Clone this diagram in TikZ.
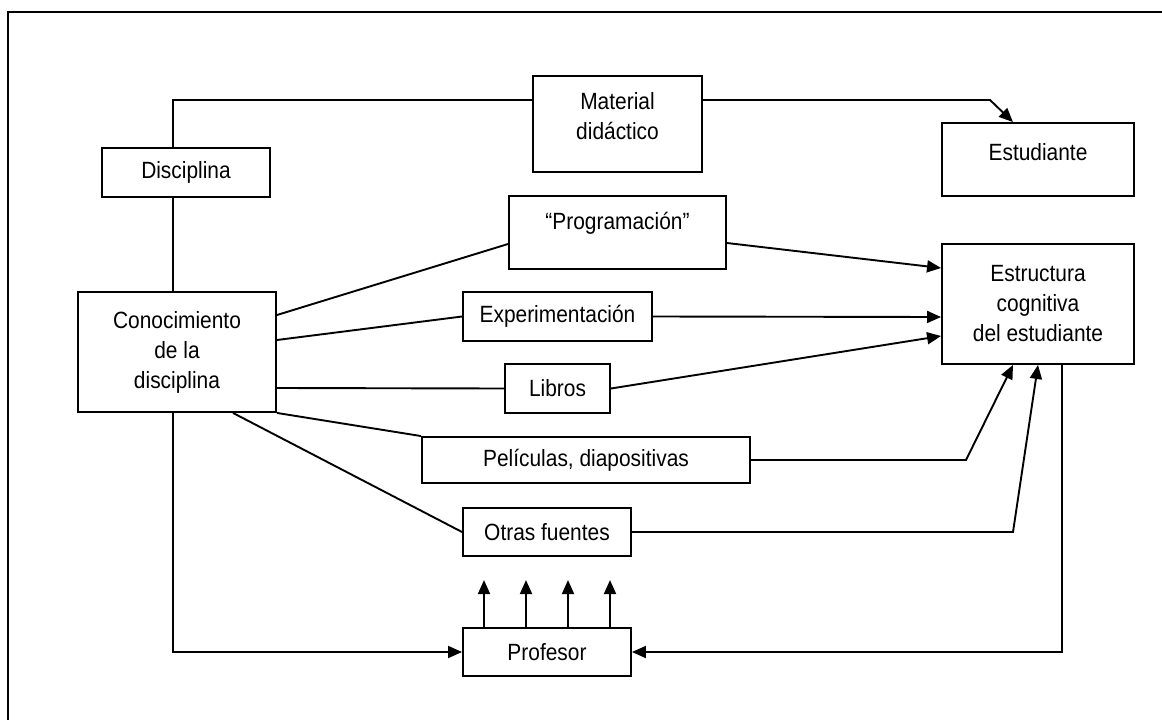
\documentclass[tikz,border=0pt]{standalone}
\usepackage{fontspec}
\setmainfont{Liberation Sans}[FakeStretch=0.89]
\usetikzlibrary{arrows.meta}
\begin{document}
\begin{tikzpicture}[x=1pt,y=-1pt,
  box/.style={draw, line width=1.9pt, inner sep=0pt, align=center,
    font=\fontsize{23.5}{30}\selectfont},
  conn/.style={line width=1.9pt},
  arr/.style={conn, -{Triangle[length=14pt,width=12pt]}},
  frame/.style={line width=2.8pt}]
\useasboundingbox (0,0) rectangle (1162,720);
\draw[frame] (8,722) -- (8,12) -- (1164,12);

% boxes
\node[box, minimum width=168, minimum height=49] (disc) at (186,172.5) {Disciplina};
\node[box, minimum width=169, minimum height=96] (mat) at (617.5,124) {\raisebox{6pt}[\height][\depth]{\begin{tabular}{@{}c@{}}Material\\did\'actico\end{tabular}}};
\node[box, minimum width=192, minimum height=73] (est) at (1038,159.5) {\raisebox{7pt}[\height][\depth]{Estudiante}};
\node[box, minimum width=217, minimum height=73] (prog) at (617.5,232.5) {\raisebox{9pt}[\height][\depth]{“Programación”}};
\node[box, minimum width=192, minimum height=120] (estr) at (1038,304) {Estructura\\cognitiva\\del estudiante};
\node[box, minimum width=198, minimum height=120] (con) at (177,352) {Conocimiento\\de la\\disciplina};
\node[box, minimum width=189, minimum height=49] (exp) at (557.5,316.5) {Experimentación};
\node[box, minimum width=105, minimum height=49] (lib) at (557.5,388.5) {Libros};
\node[box, minimum width=328, minimum height=46] (pel) at (586,460) {Películas, diapositivas};
\node[box, minimum width=168, minimum height=48] (otr) at (547,532) {Otras fuentes};
\node[box, minimum width=168, minimum height=48] (prof) at (547,652) {Profesor};

\coordinate (vx) at (173,0);
\coordinate (topy) at (0,100);
\coordinate (bend) at (990,100);

% top route
\draw[conn] (disc.north -| vx) |- (mat.west |- topy);
\draw[arr] (mat.east |- topy) -- (bend) -- ([xshift=-25pt]est.north);
\draw[conn] (disc.south -| vx) -- (con.north -| vx);

% sources from Conocimiento
\draw[conn] ([yshift=37pt]con.east) -- ([yshift=-11.5pt]prog.west);
\draw[conn] ([yshift=12pt]con.east) -- (exp.west);
\draw[conn] ([yshift=-36pt]con.east) -- (lib.west);
\draw[conn] (con.south east) -- (pel.north west);
\draw[conn] ([xshift=56pt]con.south) -- (otr.west);

% to Estructura
\draw[arr] ([yshift=-10.5pt]prog.east) -- ([yshift=36pt]estr.west);
\draw[arr] (exp.east) -- ([yshift=-13pt]estr.west);
\draw[arr] (lib.east) -- ([yshift=-32pt]estr.west);
\draw[arr] (pel.east) -- (966,460) -- ([xshift=-25pt]estr.south);
\draw[arr] (otr.east) -- (1013,532) -- (estr.south);

% Profesor
\draw[arr] (con.south -| vx) |- (prof.west);
\draw[arr] ([xshift=24pt]estr.south) |- (prof.east);
\foreach \dx/\nm in {-63/a1,-21/a2,21/a3,63/a4}{
  \draw[arr] ([xshift=\dx pt]prof.north) -- ++(0,-47) coordinate (\nm);
}
\end{tikzpicture}
\end{document}
